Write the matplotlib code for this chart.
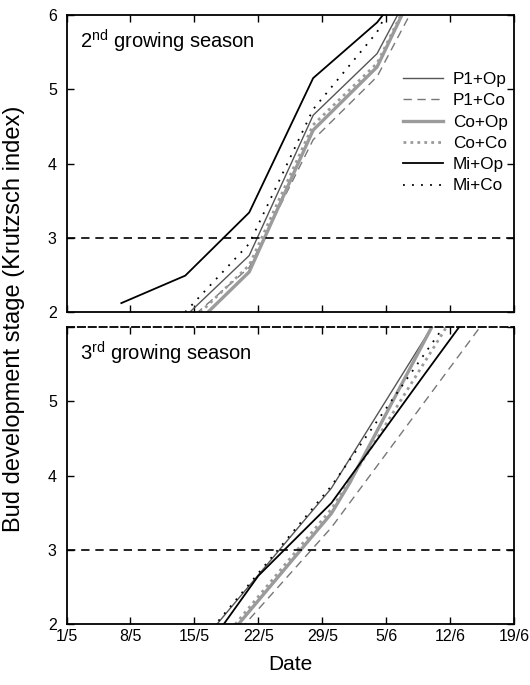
import numpy as np
import matplotlib
matplotlib.use("Agg")
import matplotlib.pyplot as plt

plt.rcParams["font.family"] = ["Liberation Sans", "DejaVu Sans"]
plt.rcParams["mathtext.fontset"] = "custom"
plt.rcParams["mathtext.rm"] = "Liberation Sans"

# x = days after 1 May
tick_days = [0, 7, 14, 21, 28, 35, 42, 49]
tick_labels = ["1/5", "8/5", "15/5", "22/5", "29/5", "5/6", "12/6", "19/6"]
series = ["P1+Op", "P1+Co", "Co+Op", "Co+Co", "Mi+Op", "Mi+Co"]

# ---- 2nd growing season ----
s2_p1op_x = [13, 20, 27, 34, 41]
s2_p1op_y = [1.94, 2.76, 4.65, 5.48, 7.1]
s2_p1co_x = [13, 20, 27, 34, 41]
s2_p1co_y = [1.85, 2.60, 4.32, 5.17, 6.8]
s2_coop_x = [13, 20, 27, 34, 41]
s2_coop_y = [1.70, 2.54, 4.45, 5.30, 7.1]
s2_coco_x = [13, 20, 27, 34, 41]
s2_coco_y = [1.80, 2.63, 4.52, 5.35, 7.1]
s2_miop_x = [6, 13, 20, 27, 34, 41]
s2_miop_y = [2.12, 2.49, 3.34, 5.15, 5.90, 7.0]
s2_mico_x = [13, 20, 27, 34, 41]
s2_mico_y = [2.00, 2.92, 4.73, 5.77, 7.5]

# ---- 3rd growing season ----
s3_p1op_x = [16, 29, 40.5]
s3_p1op_y = [1.93, 3.83, 6.1]
s3_p1co_x = [17, 29, 46]
s3_p1co_y = [1.65, 3.30, 6.12]
s3_coop_x = [17, 29, 31, 40.5]
s3_coop_y = [1.73, 3.49, 3.90, 6.12]
s3_coco_x = [17, 29, 34, 42]
s3_coco_y = [1.78, 3.55, 4.50, 6.08]
s3_miop_x = [16, 21, 29, 39, 44]
s3_miop_y = [1.79, 2.65, 3.63, 5.33, 6.17]
s3_mico_x = [16, 29, 41.5]
s3_mico_y = [1.95, 3.86, 6.04]

styles = {
    "P1+Op": dict(color="#555555", lw=1.0, ls="-"),
    "P1+Co": dict(color="#777777", lw=1.0, ls=(0, (6, 4))),
    "Co+Op": dict(color="#9b9b9b", lw=2.4, ls="-"),
    "Co+Co": dict(color="#9b9b9b", lw=2.0, ls=(0, (1, 1.5))),
    "Mi+Op": dict(color="black", lw=1.3, ls="-"),
    "Mi+Co": dict(color="black", lw=1.3, ls=(0, (1, 4))),
}

season2 = [(s2_p1op_x, s2_p1op_y), (s2_p1co_x, s2_p1co_y), (s2_coop_x, s2_coop_y),
           (s2_coco_x, s2_coco_y), (s2_miop_x, s2_miop_y), (s2_mico_x, s2_mico_y)]
season3 = [(s3_p1op_x, s3_p1op_y), (s3_p1co_x, s3_p1co_y), (s3_coop_x, s3_coop_y),
           (s3_coco_x, s3_coco_y), (s3_miop_x, s3_miop_y), (s3_mico_x, s3_mico_y)]

fig = plt.figure(figsize=(5.3, 6.85), dpi=100)
ax1 = fig.add_axes([0.1255, 0.5445, 0.8445, 0.4336])
ax2 = fig.add_axes([0.1255, 0.089, 0.8445, 0.4336])

for ax, data in [(ax1, season2), (ax2, season3)]:
    for name, (x, y) in zip(series, data):
        ax.plot(x, y, label=name, **styles[name])
    ax.axhline(3, color="black", lw=1.2, ls=(0, (5, 3.5)))
    ax.set_xlim(0, 49)
    ax.set_ylim(2, 6)
    ax.set_xticks(tick_days)
    ax.set_yticks([2, 3, 4, 5, 6])
    ax.tick_params(direction="in", top=True, right=True, length=5, width=1,
                   labelsize=11.5)
    ax.tick_params(axis="x", pad=3.5)
    ax.tick_params(axis="y", pad=7)
    for sp in ax.spines.values():
        sp.set_linewidth(1.3)

ax1.set_xticklabels([])
ax2.set_xticklabels(tick_labels)
ax2.set_yticklabels(["2", "3", "4", "5", ""])
ax2.spines["top"].set_linestyle((0, (4, 2)))

ax1.text(0.03, 0.912, r"2$^{\mathregular{nd}}$ growing season", transform=ax1.transAxes,
         fontsize=14.5, va="center", ha="left")
ax2.text(0.03, 0.912, r"3$^{\mathregular{rd}}$ growing season", transform=ax2.transAxes,
         fontsize=14.5, va="center", ha="left")

ax1.legend(loc="upper right", bbox_to_anchor=(1.009, 0.843), frameon=False,
           fontsize=12.3, handlelength=2.3, handletextpad=0.6, labelspacing=0.37,
           borderaxespad=0.2)

ax2.set_xlabel("Date", fontsize=15, labelpad=8)
fig.text(0.026, 0.534, "Bud development stage (Krutzsch index)", rotation=90,
         fontsize=17, va="center", ha="center")

fig.savefig("out.png", dpi=100)
